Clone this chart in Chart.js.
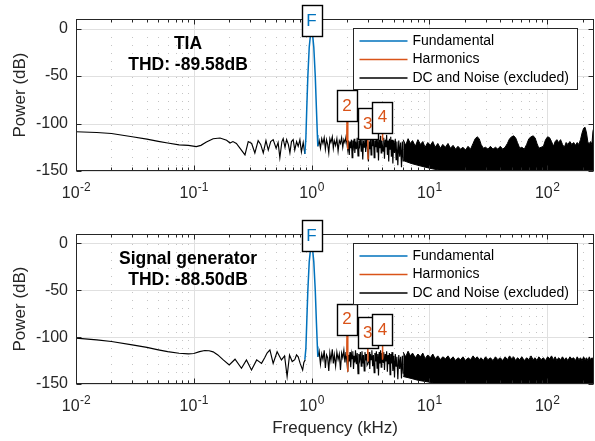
<!DOCTYPE html>
<html>
<head>
<meta charset="utf-8">
<script src="https://cdn.jsdelivr.net/npm/chart.js@4.4.1/dist/chart.umd.min.js"></script>
<style>
  html, body { margin: 0; padding: 0; background: #fff; }
  #wrap { position: relative; width: 595px; height: 441px; }
  canvas { position: absolute; left: 0; }
</style>
</head>
<body>
<div id="wrap">
  <canvas id="tia" width="595" height="210" style="top:0"></canvas>
  <canvas id="siggen" width="595" height="231" style="top:210px"></canvas>
</div>
<script>
// ---- data (kHz / dB) ----
const yTicks = [0, -50, -100, -150];
const xTickExp = [-2, -1, 0, 1, 2];
const legendLabels = ["Fundamental", "Harmonics", "DC and Noise (excluded)"];
const labelText = ["F", "2", "3", "4"];
const labelFreq = [1, 2, 3, 4];

const fundFreq = [0.877, 0.895, 0.91, 0.93, 0.955, 0.98, 1.0, 1.02, 1.045, 1.075, 1.1, 1.12, 1.13];
const harmFreq = [1.99, 2.0, 2.03, 2.5, 2.99, 3.0, 3.02, 3.5, 3.985, 4.0, 4.02];

const midFreq = [
  1.13, 1.16, 1.19, 1.22, 1.25, 1.28, 1.31, 1.34, 1.37, 1.4,
  1.43, 1.46, 1.5, 1.53, 1.56, 1.6, 1.64, 1.68, 1.72, 1.76,
  1.8, 1.84, 1.88, 1.92, 1.96,
  2.03, 2.06, 2.09, 2.12, 2.15, 2.18, 2.21, 2.24, 2.27, 2.3,
  2.33, 2.36, 2.4, 2.44, 2.48, 2.52, 2.56, 2.6, 2.64, 2.68,
  2.72, 2.76, 2.8, 2.84, 2.88, 2.92, 2.96,
  3.04, 3.08, 3.12, 3.16, 3.2, 3.25, 3.3, 3.35, 3.4, 3.45,
  3.5, 3.55, 3.6, 3.65, 3.7, 3.75, 3.8, 3.85, 3.9, 3.95,
  4.05, 4.1, 4.16, 4.22, 4.28, 4.34, 4.4, 4.46, 4.52, 4.58,
  4.64, 4.7, 4.76, 4.82, 4.9, 4.98, 5.06, 5.14, 5.22, 5.3,
  5.4, 5.5, 5.6, 5.7, 5.8, 5.9, 6.0
];

const bandFreq = [
  6, 6.3, 6.6, 6.9, 7.2, 7.6, 8, 8.4, 8.8, 9.2,
  9.7, 10.2, 10.7, 11.2, 11.8, 12.4, 13, 13.7, 14.4, 15.1,
  15.9, 16.7, 17.5, 18.4, 19.3, 20.3, 21.3, 22.4, 23.5, 24.5,
  25.5, 26.5, 27.5, 28.7, 30, 31.5, 33, 34.7, 36.4, 38.2,
  40, 42, 44, 46, 48, 50, 52, 54, 56, 58.5,
  61, 64, 67, 70, 73, 76, 79, 82, 85, 89,
  93, 97, 101, 105, 109, 113, 117, 121, 125, 130,
  135, 140, 145, 150, 156, 162, 168, 174, 180, 186,
  192, 198, 204, 210, 216, 222, 228, 234, 240, 245, 250
];
const floorFreq = [6, 7, 8, 10, 12, 14, 250];

// TIA (top)
const tiaLowFreq = [
  0.01, 0.015, 0.02, 0.03, 0.04, 0.05, 0.06, 0.075, 0.09, 0.105,
  0.115, 0.128, 0.146, 0.167, 0.19, 0.203, 0.215, 0.23, 0.25, 0.272,
  0.29, 0.31, 0.33, 0.352, 0.37, 0.389, 0.41, 0.429, 0.45, 0.472,
  0.5, 0.52, 0.538, 0.56, 0.574, 0.595, 0.614, 0.635, 0.655, 0.675,
  0.698, 0.72, 0.746, 0.77, 0.796, 0.82, 0.849, 0.877
];
const tiaLowDb = [
  -108.7, -109.5, -110.5, -114, -116.5, -118.8, -120.5, -122.5, -123, -124.3,
  -123, -119.5, -116, -115.3, -117.7, -120.5, -119, -121, -127, -133,
  -119, -121, -131, -118, -122, -131, -118, -128, -119, -117,
  -126, -120, -136, -119, -116, -125, -117, -122, -131, -119,
  -117, -128, -119, -124, -117, -130, -120, -132
];
const tiaFundDb = [-132, -115, -85, -50, -20, -6, -3, -6, -20, -50, -85, -112, -124];
const tiaHarmDb = [-118, -92.5, -127, null, -120, -111.5, -138, null, -113, -104.5, -118];
const tiaLabelDb = [-3, -92.5, -111.5, -104.5];
const tiaMidDb = [
  -124, -118, -126, -116, -121, -115, -127, -117, -122, -131,
  -116, -120, -114, -126, -118, -123, -116, -129, -118, -121,
  -115, -125, -117, -120, -114,
  -128, -118, -133, -119, -126, -117, -136, -118, -124, -116,
  -131, -119, -127, -115, -134, -118, -123, -114, -129, -117,
  -138, -118, -125, -115, -130, -117, -122,
  -140, -119, -127, -115, -133, -117, -124, -113, -136, -118,
  -125, -114, -130, -116, -139, -117, -126, -113, -131, -118,
  -129, -115, -137, -117, -125, -112, -133, -118, -140, -116,
  -127, -114, -135, -117, -142, -118, -131, -116, -138, -119,
  -144, -118, -135, -120, -146, -119, -140
];
const tiaBandDb = [
  -117, -123, -116, -121, -118, -124, -117, -122, -119, -125,
  -120, -123, -119, -125, -121, -126, -122, -125, -121, -126,
  -123, -127, -124, -127, -125, -128, -124, -127, -121, -116,
  -114, -116, -122, -126, -125, -127, -124, -127, -125, -127,
  -124, -127, -125, -121, -116, -114, -113, -115, -120, -126,
  -125, -127, -122, -116, -114, -113, -115, -121, -126, -125,
  -124, -117, -114, -115, -119, -124, -119, -117, -120, -117,
  -122, -125, -120, -122, -119, -122, -120, -123, -120, -122,
  -117, -110, -105, -104, -110, -120, -121, -119, -122, -108, -104
];
const tiaFloorDb = [-139, -142, -144, -147, -149, -150, -150];

// Signal generator (bottom)
const sgLowFreq = [
  0.01, 0.015, 0.02, 0.03, 0.04, 0.05, 0.06, 0.075, 0.09, 0.1,
  0.112, 0.124, 0.135, 0.146, 0.16, 0.178, 0.2, 0.224, 0.254, 0.28,
  0.309, 0.342, 0.376, 0.4, 0.419, 0.443, 0.472, 0.51, 0.555, 0.59,
  0.62, 0.65, 0.685, 0.72, 0.745, 0.77, 0.8, 0.84, 0.86, 0.885
];
const sgLowDb = [
  -101, -103, -104.7, -108.2, -111, -113.6, -115.5, -117.2, -117.9, -117.5,
  -115.5, -114.3, -114.5, -115.7, -119, -124.3, -129.7, -123.6, -133.2, -124.3,
  -135, -124.3, -128, -122, -117, -113.6, -128, -115.6, -124.3, -120,
  -142, -119, -126, -124, -119, -121, -128, -135, -127, -124
];
const sgFundDb = [-124, -112, -85, -50, -20, -6, -3, -6, -20, -50, -85, -110, -121];
const sgHarmDb = [-120, -92, -137, null, -118, -106.5, -126, null, -115, -103, -124];
const sgLabelDb = [-3, -92, -106.5, -103];
const sgMidDb = [
  -121, -115, -129, -118, -124, -114, -133, -119, -122, -136,
  -117, -125, -113, -128, -119, -131, -116, -124, -118, -135,
  -117, -122, -114, -127, -116,
  -137, -119, -126, -116, -132, -118, -123, -115, -134, -120,
  -127, -114, -129, -117, -139, -118, -124, -116, -131, -115,
  -128, -119, -136, -116, -125, -118, -130,
  -127, -116, -134, -118, -124, -114, -131, -119, -138, -117,
  -126, -115, -133, -118, -141, -116, -128, -114, -132, -117,
  -127, -116, -135, -118, -126, -115, -137, -119, -129, -117,
  -140, -118, -128, -116, -136, -120, -143, -118, -131, -121,
  -145, -119, -134, -121, -144, -120, -139
];
const sgBandDb = [
  -116, -121, -115, -120, -117, -122, -118, -121, -117, -123,
  -119, -122, -118, -123, -120, -124, -121, -123, -120, -124,
  -121, -125, -122, -124, -121, -125, -122, -124, -120, -123,
  -121, -124, -122, -125, -121, -124, -122, -125, -121, -124,
  -122, -125, -121, -124, -120, -123, -121, -125, -122, -124,
  -121, -125, -122, -124, -120, -124, -122, -125, -121, -124,
  -122, -125, -121, -123, -120, -124, -121, -125, -122, -124,
  -121, -124, -122, -125, -121, -123, -122, -125, -121, -124,
  -122, -125, -121, -124, -122, -125, -121, -124, -122, -123, -121
];
const sgFloorDb = [-142, -144, -146, -148, -150, -150, -150];

// ---- styling ----
const FONT = '"Liberation Sans", Arial, sans-serif';
const AXIS = "#262626";
const BLUE = "#0072BD";
const ORANGE = "#D95319";

const pts = (xs, ys) => xs.map((v, i) => ({ x: v, y: ys[i] === undefined ? null : ys[i] }));

// minor grid positions 2..9 per decade
const minorGridX = [];
for (let e = -2; e <= 2; e++) {
  for (let m = 2; m <= 9; m++) {
    const v = m * Math.pow(10, e);
    if (v < 250) minorGridX.push(v);
  }
}

function vline(ctx, px, y0, y1) { ctx.beginPath(); ctx.moveTo(px, y0); ctx.lineTo(px, y1); ctx.stroke(); }
function hline(ctx, py, x0, x1) { ctx.beginPath(); ctx.moveTo(x0, py); ctx.lineTo(x1, py); ctx.stroke(); }

const matlabAxes = {
  id: "matlabAxes",
  beforeDatasetsDraw(chart) {
    const { ctx, chartArea: a, scales: { x, y } } = chart;
    ctx.save();
    ctx.lineWidth = 1;
    ctx.strokeStyle = "#c4c4c4";
    ctx.setLineDash([1, 7]);
    minorGridX.forEach(v => vline(ctx, Math.round(x.getPixelForValue(v)) + 0.5, a.top + 2, a.bottom));
    ctx.setLineDash([]);
    ctx.strokeStyle = "#e0e0e0";
    xTickExp.forEach(e => vline(ctx, Math.round(x.getPixelForValue(Math.pow(10, e))) + 0.5, a.top, a.bottom));
    yTicks.forEach(v => hline(ctx, Math.round(y.getPixelForValue(v)) + 0.5, a.left, a.right));
    ctx.restore();
  },
  afterDatasetsDraw(chart, args, opts) {
    const { ctx, chartArea: a, scales: { x, y } } = chart;
    const L = Math.round(a.left) + 0.5, R = Math.round(a.right) - 0.5;
    const T = Math.round(a.top) + 0.5, B = Math.round(a.bottom) - 0.5;
    ctx.save();

    // box + inward ticks
    ctx.strokeStyle = AXIS;
    ctx.lineWidth = 1;
    ctx.strokeRect(L, T, R - L, B - T);
    minorGridX.forEach(v => {
      const px = Math.round(x.getPixelForValue(v)) + 0.5;
      vline(ctx, px, B, B - 3); vline(ctx, px, T, T + 3);
    });
    xTickExp.forEach(e => {
      const px = Math.round(x.getPixelForValue(Math.pow(10, e))) + 0.5;
      vline(ctx, px, B, B - 5); vline(ctx, px, T, T + 5);
    });
    yTicks.forEach(v => {
      const py = Math.round(y.getPixelForValue(v)) + 0.5;
      hline(ctx, py, L, L + 5); hline(ctx, py, R, R - 5);
    });

    // tick labels
    ctx.fillStyle = AXIS;
    ctx.font = `16px ${FONT}`;
    ctx.textAlign = "right";
    ctx.textBaseline = "middle";
    yTicks.forEach(v => ctx.fillText(String(v), a.left - 8, y.getPixelForValue(v)));

    ctx.textAlign = "left";
    ctx.textBaseline = "alphabetic";
    xTickExp.forEach(e => {
      const px = x.getPixelForValue(Math.pow(10, e));
      ctx.font = `16px ${FONT}`;
      const wb = ctx.measureText("10").width;
      ctx.font = `12px ${FONT}`;
      const we = ctx.measureText(String(e)).width;
      const left = px - (wb + we) / 2;
      ctx.font = `16px ${FONT}`;
      ctx.fillText("10", left, a.bottom + 27);
      ctx.font = `12px ${FONT}`;
      ctx.fillText(String(e), left + wb + 0.5, a.bottom + 20);
    });

    // axis titles
    ctx.font = `17px ${FONT}`;
    ctx.textAlign = "center";
    ctx.textBaseline = "middle";
    ctx.save();
    ctx.translate(20, (a.top + a.bottom) / 2);
    ctx.rotate(-Math.PI / 2);
    ctx.fillText("Power (dB)", 0, 0);
    ctx.restore();
    if (opts.xTitle) ctx.fillText(opts.xTitle, (a.left + a.right) / 2, a.bottom + 44);

    // panel title
    ctx.font = `bold 17.5px ${FONT}`;
    ctx.fillStyle = "#000";
    opts.title.forEach((t, i) => ctx.fillText(t, 188, a.top + 25.5 + i * 21));

    // peak labels
    opts.labelDb.forEach((db, i) => {
      const px = x.getPixelForValue(labelFreq[i]);
      const bottom = y.getPixelForValue(db) + 5;
      const bx = Math.round(px - 10) + 0.5, by = Math.round(bottom - 31) + 0.5;
      ctx.fillStyle = "#fff";
      ctx.fillRect(bx, by, 20, 31);
      ctx.strokeStyle = "#000";
      ctx.lineWidth = 1.4;
      ctx.strokeRect(bx, by, 20, 31);
      ctx.fillStyle = i === 0 ? BLUE : ORANGE;
      ctx.font = `17px ${FONT}`;
      ctx.fillText(labelText[i], px, bottom - 15);
    });

    // legend
    const lx = 353.5, ly = Math.round(a.top + 8.5) + 0.5, lw = 224, lh = 61;
    ctx.fillStyle = "#fff";
    ctx.fillRect(lx, ly, lw, lh);
    ctx.strokeStyle = AXIS;
    ctx.lineWidth = 1;
    ctx.strokeRect(lx, ly, lw, lh);
    ctx.font = `14px ${FONT}`;
    ctx.textAlign = "left";
    ctx.textBaseline = "middle";
    chart.data.datasets.filter(d => d.label).forEach((d, i) => {
      const ry = ly + 12.5 + i * 18.5;
      ctx.strokeStyle = d.borderColor;
      ctx.lineWidth = 1.3;
      hline(ctx, ry, lx + 6, lx + 54);
      ctx.fillStyle = "#000";
      ctx.fillText(d.label, lx + 59, ry);
    });
    ctx.restore();
  }
};

function spectrumChart(id, p) {
  return new Chart(document.getElementById(id), {
    type: "line",
    data: {
      datasets: [
        { label: legendLabels[0], data: pts(fundFreq, p.fundDb), borderColor: BLUE, borderWidth: 1.5 },
        { label: legendLabels[1], data: pts(harmFreq, p.harmDb), borderColor: ORANGE, borderWidth: 1.5 },
        { label: legendLabels[2], data: [...pts(p.lowFreq, p.lowDb), { x: 1, y: null }, ...pts(midFreq, p.midDb)],
          borderColor: "#000", borderWidth: 1.15 },
        { data: pts(bandFreq, p.bandDb), borderColor: "#000", borderWidth: 1,
          backgroundColor: "#000", fill: "+1" },
        { data: pts(floorFreq, p.floorDb), borderColor: "#000", borderWidth: 1 }
      ]
    },
    options: {
      responsive: false,
      animation: false,
      devicePixelRatio: 1,
      layout: { padding: p.padding },
      elements: { point: { radius: 0 }, line: { tension: 0 } },
      scales: {
        x: { type: "logarithmic", min: 0.01, max: 250, display: false },
        y: { type: "linear", min: -150, max: 10, display: false }
      },
      plugins: {
        legend: { display: false },
        tooltip: { enabled: false },
        matlabAxes: { title: p.title, labelDb: p.labelDb, xTitle: p.xTitle }
      }
    },
    plugins: [matlabAxes]
  });
}

spectrumChart("tia", {
  lowFreq: tiaLowFreq, lowDb: tiaLowDb, fundDb: tiaFundDb, harmDb: tiaHarmDb,
  midDb: tiaMidDb, bandDb: tiaBandDb, floorDb: tiaFloorDb, labelDb: tiaLabelDb,
  title: ["TIA", "THD: -89.58dB"],
  padding: { left: 76, right: 1, top: 19, bottom: 39 }
});

spectrumChart("siggen", {
  lowFreq: sgLowFreq, lowDb: sgLowDb, fundDb: sgFundDb, harmDb: sgHarmDb,
  midDb: sgMidDb, bandDb: sgBandDb, floorDb: sgFloorDb, labelDb: sgLabelDb,
  title: ["Signal generator", "THD: -88.50dB"],
  xTitle: "Frequency (kHz)",
  padding: { left: 76, right: 1, top: 24, bottom: 57 }
});
</script>
</body>
</html>
